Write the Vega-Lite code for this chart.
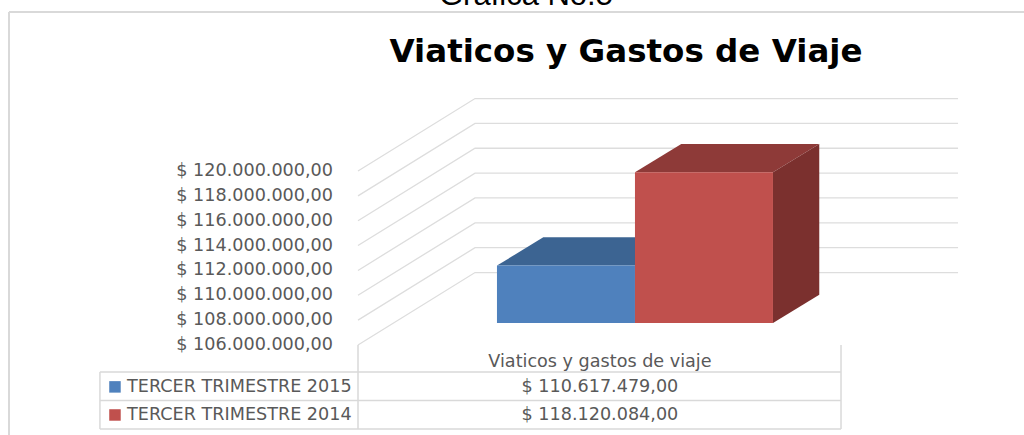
{
"$schema":"https://vega.github.io/schema/vega-lite/v6.json",
"width":666,"height":174,
"autosize":{"type":"none"},
"padding":{"left":358,"top":171,"right":0,"bottom":90},
"background":"white",
"config":{"view":{"stroke":null}},
"datasets":{
"valores":[{"serie":"TERCER TRIMESTRE 2015","valor":110617479,"orden":0},{"serie":"TERCER TRIMESTRE 2014","valor":118120084,"orden":1}],
"niveles":[{"nivel":106000000},{"nivel":108000000},{"nivel":110000000},{"nivel":112000000},{"nivel":114000000},{"nivel":116000000},{"nivel":118000000},{"nivel":120000000}],
"filas":[{"fila":0},{"fila":1},{"fila":2}],
"uno":[{"u":1}]
},
"resolve":{"scale":{"color":"independent"}},
"layer":[
{"data":{"values":[{"t":"Gráfica No.5","px":0.21,"py":133350000}]},
 "mark":{"type":"text","font":"Liberation Sans","fontSize":31,"align":"center","baseline":"alphabetic","color":"#000000"},
 "encoding":{"x":{"field":"px","type":"quantitative","scale":{"domain":[-1.007,3.819],"nice":false,"zero":false},"axis":null},
  "y":{"field":"py","type":"quantitative","scale":{"domain":[106000000,120000000],"nice":false,"zero":false},"axis":null},
  "text":{"field":"t"}}},
{"data":{"values":[{"t":"Viaticos y Gastos de Viaje"}]},
 "mark":{"type":"text","font":"DejaVu Sans","fontWeight":"bold","fontSize":32.5,"align":"center","baseline":"alphabetic","color":"#000000"},
 "encoding":{"x":{"datum":0.935},"y":{"datum":128790000},"text":{"field":"t"}}},
{"data":{"name":"uno"},"mark":{"type":"rule","color":"#d9d9d9","strokeWidth":2},
 "encoding":{"x":{"datum":-3.536},"x2":{"datum":3.819},"y":{"datum":132790000}}},
{"data":{"name":"uno"},"mark":{"type":"rule","color":"#d9d9d9","strokeWidth":2},
 "encoding":{"x":{"datum":-3.536},"y":{"datum":132790000},"y2":{"datum":98760000}}},
{"data":{"name":"niveles"},
 "transform":[{"calculate":"'$ '+replace(format(datum.nivel,',.0f'),/,/g,'.')+',00'","as":"etq"}],
 "mark":{"type":"text","font":"DejaVu Sans","fontSize":17.6,"color":"#595959","align":"right","baseline":"middle","dx":-25},
 "encoding":{"x":{"datum":-1.007},"y":{"field":"nivel","type":"quantitative"},"text":{"field":"etq"}}},
{"data":{"name":"niveles"},
 "transform":[
  {"calculate":"[0,1,2]","as":"t"},{"flatten":["t"]},
  {"calculate":"datum.t==0?-1.007:(datum.t==1?-0.159:3.341)","as":"gx"},
  {"calculate":"datum.nivel+(datum.t==0?0:5830000)","as":"gy"}],
 "mark":{"type":"line","color":"#dddddd","strokeWidth":1.3,"interpolate":"linear"},
 "encoding":{
  "x":{"field":"gx","type":"quantitative","sort":null},
  "y":{"field":"gy","type":"quantitative"},
  "detail":{"field":"nivel"}}},
{"data":{"name":"valores"},
 "transform":[
  {"calculate":"[0,1,2,3]","as":"t"},{"flatten":["t"]},
  {"calculate":"datum.orden+(datum.t==0?0:(datum.t==1?0.3355:(datum.t==2?1:1.3355)))","as":"ax"},
  {"calculate":"datum.valor+1770000+(datum.t==0?0:2280000)","as":"ay"},
  {"calculate":"datum.valor+1770000+(datum.t==3?2280000:0)","as":"ay2"}],
 "mark":{"type":"area","interpolate":"linear"},
 "encoding":{
  "x":{"field":"ax","type":"quantitative"},"y":{"field":"ay","type":"quantitative"},"y2":{"field":"ay2"},
  "color":{"field":"serie","type":"nominal","legend":null,"scale":{"domain":["TERCER TRIMESTRE 2015","TERCER TRIMESTRE 2014"],"range":["#3c6492","#8e3a38"]}}}},
{"data":{"name":"valores"},
 "transform":[
  {"calculate":"[0,1]","as":"t"},{"flatten":["t"]},
  {"calculate":"datum.orden+1+datum.t*0.3355","as":"ax"},
  {"calculate":"datum.valor+1770000+datum.t*2280000","as":"ay"},
  {"calculate":"107770000+datum.t*2280000","as":"ay2"}],
 "mark":{"type":"area","interpolate":"linear"},
 "encoding":{
  "x":{"field":"ax","type":"quantitative"},"y":{"field":"ay","type":"quantitative"},"y2":{"field":"ay2"},
  "color":{"field":"serie","type":"nominal","legend":null,"scale":{"domain":["TERCER TRIMESTRE 2015","TERCER TRIMESTRE 2014"],"range":["#2f4f74","#7b302e"]}}}},
{"data":{"name":"valores"},
 "transform":[
  {"calculate":"datum.orden+1","as":"fin"},
  {"calculate":"datum.valor+1770000","as":"cima"},
  {"calculate":"107770000","as":"base"}],
 "mark":{"type":"rect"},
 "encoding":{
  "x":{"field":"orden","type":"quantitative"},"x2":{"field":"fin"},
  "y":{"field":"cima","type":"quantitative"},"y2":{"field":"base"},
  "color":{"field":"serie","type":"nominal","legend":null,"scale":{"domain":["TERCER TRIMESTRE 2015","TERCER TRIMESTRE 2014"],"range":["#4f81bd","#c0504d"]}}}},
{"data":{"name":"filas"},
 "transform":[{"calculate":"103828000-datum.fila*2292000","as":"ly"}],
 "mark":{"type":"rule","color":"#d9d9d9","strokeWidth":1.5},
 "encoding":{"x":{"datum":-2.877},"x2":{"datum":2.493},"y":{"field":"ly","type":"quantitative"}}},
{"data":{"name":"uno"},"mark":{"type":"rule","color":"#d9d9d9","strokeWidth":1.5},
 "encoding":{"x":{"datum":-2.877},"y":{"datum":103828000},"y2":{"datum":99244000}}},
{"data":{"name":"uno"},"mark":{"type":"rule","color":"#d9d9d9","strokeWidth":1.5},
 "encoding":{"x":{"datum":-1.007},"y":{"datum":106000000},"y2":{"datum":99244000}}},
{"data":{"name":"uno"},"mark":{"type":"rule","color":"#d9d9d9","strokeWidth":1.5},
 "encoding":{"x":{"datum":2.493},"y":{"datum":106000000},"y2":{"datum":99244000}}},
{"data":{"values":[{"t":"Viaticos y gastos de viaje"}]},
 "mark":{"type":"text","font":"DejaVu Sans","fontSize":17.6,"color":"#595959","align":"center","baseline":"middle"},
 "encoding":{"x":{"datum":0.746},"y":{"datum":104640000},"text":{"field":"t"}}},
{"data":{"name":"valores"},
 "transform":[{"calculate":"102630000-datum.orden*2260000","as":"fy"},{"calculate":"'$ '+replace(format(datum.valor,',.0f'),/,/g,'.')+',00'","as":"etq"}],
 "mark":{"type":"text","font":"DejaVu Sans","fontSize":17.6,"color":"#595959","align":"center","baseline":"middle"},
 "encoding":{"x":{"datum":0.746},"y":{"field":"fy","type":"quantitative"},"text":{"field":"etq"}}},
{"data":{"name":"valores"},
 "transform":[{"calculate":"102630000-datum.orden*2260000","as":"fy"}],
 "mark":{"type":"text","font":"DejaVu Sans","fontSize":17.6,"color":"#595959","align":"left","baseline":"middle"},
 "encoding":{"x":{"datum":-2.68},"y":{"field":"fy","type":"quantitative"},"text":{"field":"serie"}}},
{"data":{"name":"valores"},
 "transform":[{"calculate":"102630000-datum.orden*2260000","as":"fy"}],
 "mark":{"type":"square","filled":true,"size":132,"opacity":1},
 "encoding":{"x":{"datum":-2.768},"y":{"field":"fy","type":"quantitative"},
  "color":{"field":"serie","type":"nominal","legend":null,"scale":{"domain":["TERCER TRIMESTRE 2015","TERCER TRIMESTRE 2014"],"range":["#4f81bd","#c0504d"]}}}}
]
}
